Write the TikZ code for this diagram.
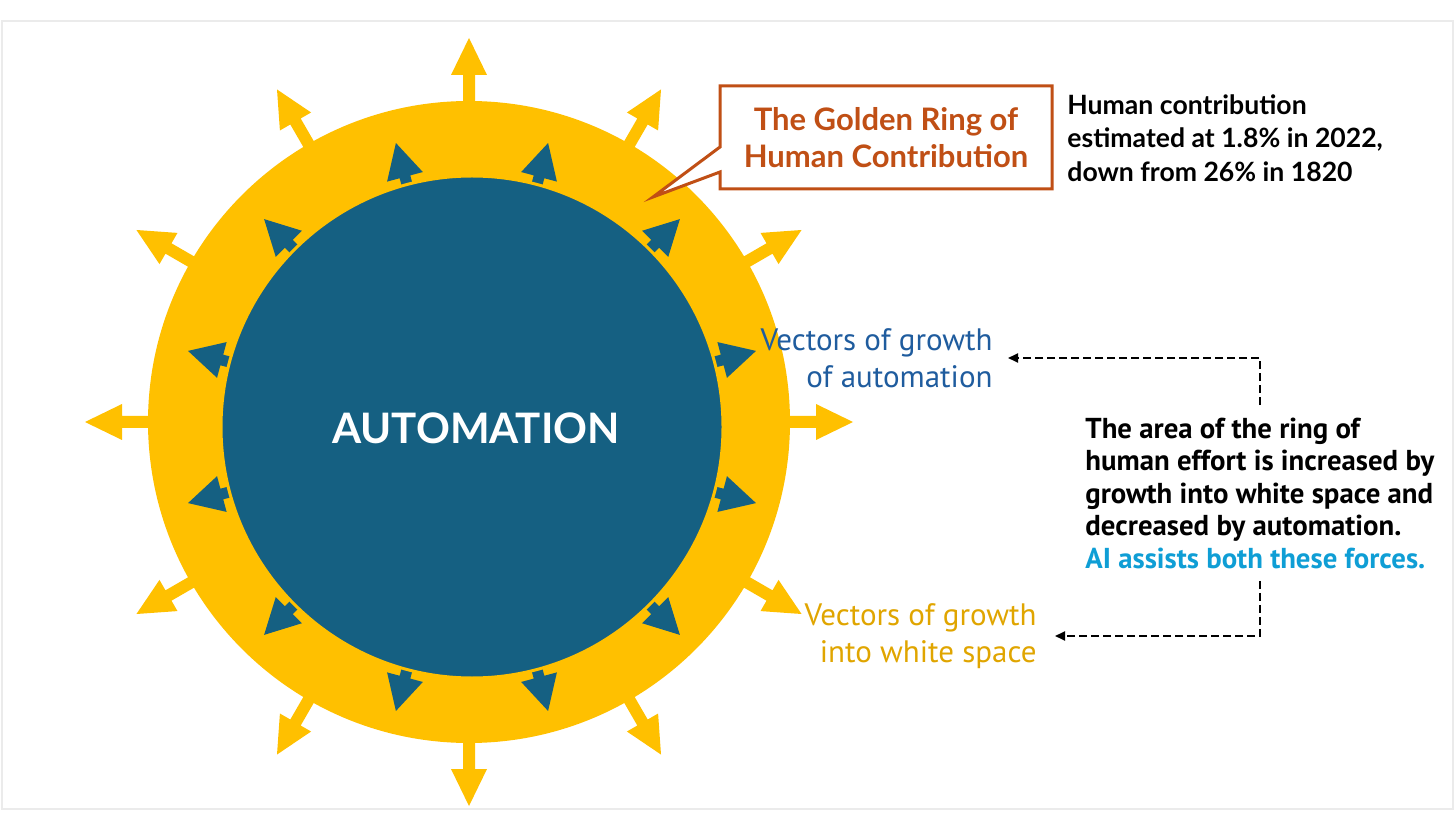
\documentclass[tikz,border=0pt]{standalone}
\usepackage{fontspec}
\setmainfont{Lato}
\newfontfamily\narrowfont{PT Sans}
\usetikzlibrary{arrows.meta, calc}
\definecolor{cgold}{HTML}{FFC000}
\definecolor{cteal}{HTML}{156082}
\definecolor{crust}{HTML}{C04F15}
\definecolor{cnavy}{HTML}{1F5C9E}
\definecolor{cochre}{HTML}{E0A500}
\definecolor{csky}{HTML}{0F9ED5}
\definecolor{cframe}{HTML}{EBEBEB}
\tikzset{
  every picture/.style={x=0.5pt, y=-0.5pt},
  goldarrow/.style={fill=cgold},
  tealarrow/.style={fill=cteal},
  callout/.style={draw=crust, line width=1.5pt, fill=white, line join=miter},
  calloutlabel/.style={font=\bfseries\fontsize{15.5}{18.5}\selectfont, text=crust, align=center, inner sep=0pt},
  fact/.style={font=\bfseries\fontsize{13.3}{16.75}\selectfont, align=left, inner sep=0pt},
  vec/.style={font=\narrowfont\fontsize{15.5}{18.5}\selectfont, align=right, inner sep=0pt},
  para/.style={font=\narrowfont\bfseries\fontsize{14.4}{16.25}\selectfont, align=left, inner ysep=6pt, inner xsep=0pt},
  dasharrow/.style={-{Triangle[length=5pt, width=4.5pt]}, line width=1pt, dash pattern=on 4pt off 2pt},
}

\begin{document}
\begin{tikzpicture}
  \useasboundingbox (0,0) rectangle (1456,839);
  \draw[cframe, line width=1pt] (2,21) rectangle (1453,809);
  \coordinate (hub) at (469,422);
  \coordinate (core hub) at (472,427);
  % vectors of growth into white space
  \foreach \a in {0,30,...,330}
    \fill[goldarrow, shift={(hub)}, rotate=\a] (300,-6) -- (347,-6) -- (347,-18) -- (384,0) -- (347,18) -- (347,6) -- (300,6) -- cycle;
  \fill[cgold] (hub) circle[radius=321];
  % vectors of growth of automation
  \foreach \a in {15,45,...,345}
    \fill[tealarrow, shift={(core hub)}, rotate=\a] (230,-5.5) -- (259,-5.5) -- (259,-18.5) -- (294,0) -- (259,18.5) -- (259,5.5) -- (230,5.5) -- cycle;
  \filldraw[fill=cteal, draw=cgold, line width=1.5pt] (core hub) circle[radius=251];
  \node[font=\bfseries\fontsize{21}{25}\selectfont, text=white] (core) at (476,428) {AUTOMATION};

  % callout
  \coordinate (gnw) at (720,86);
  \coordinate (gse) at (1052,189);
  \coordinate (tip) at (653,197);
  \draw[callout] (gnw) -| (gse) -| (720,172) -- (tip) -- (720,147) -- cycle;
  \node[calloutlabel] (golden) at ($(gnw)!0.5!(gse)$) {The Golden Ring of\\Human Contribution};
  \node[fact, anchor=west] (share) at (1067,138) {Human contribution\\estimated at 1.8\% in 2022,\\down from 26\% in 1820};

  % labels and explanation
  \node[vec, text=cnavy, anchor=east] (autovec) at (993,358) {Vectors of growth\\of automation};
  \node[vec, text=cochre, anchor=east] (whitevec) at (1037,636) {Vectors of growth\\into white space};
  \node[para, anchor=west] (effect) at (1085,493) {The area of the ring of\\human effort is increased by\\growth into white space and\\decreased by automation.\\\textcolor{csky}{AI assists both these forces.}};
  \draw[dasharrow, shorten >=7.5pt] (effect.north) |- (autovec.east);
  \draw[dasharrow, shorten >=9pt] (effect.south) |- (whitevec.east);
\end{tikzpicture}
\end{document}
